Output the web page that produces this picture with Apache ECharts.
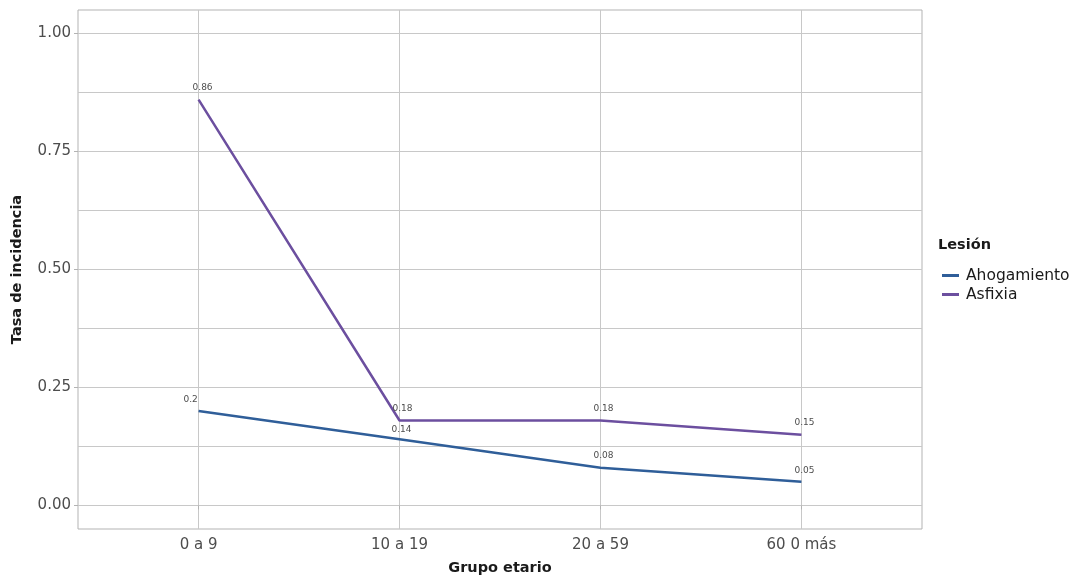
<!DOCTYPE html>
<html>
<head>
<meta charset="utf-8">
<script src="https://cdn.jsdelivr.net/npm/echarts@6/dist/echarts.min.js"></script>
<style>
html,body{margin:0;padding:0;background:#fff;}
#chart{width:1081px;height:577px;}
</style>
</head>
<body>
<div id="chart"></div>
<script>
const categories = ['0 a 9', '10 a 19', '20 a 59', '60 0 más'];
const ahogamiento = [0.2, 0.14, 0.08, 0.05];
const asfixia = [0.86, 0.18, 0.18, 0.15];
const yTickLabels = [0, 0.25, 0.5, 0.75, 1.0];
const yGridValues = [0, 0.125, 0.25, 0.375, 0.5, 0.625, 0.75, 0.875, 1.0];
const seriesNames = ['Ahogamiento', 'Asfixia'];

const FONT = 'DejaVu Sans';
const chart = echarts.init(document.getElementById('chart'), null, {renderer: 'canvas'});

function toPoints(arr, offsets) {
  return arr.map((v, i) => {
    const item = {value: [i, v]};
    if (offsets && offsets[i]) item.label = {offset: offsets[i]};
    return item;
  });
}

const labelStyle = {
  show: true,
  position: 'top',
  distance: 7,
  offset: [3, 0],
  fontFamily: FONT,
  fontSize: 9,
  color: '#4d4d4d',
  formatter: p => String(p.value[1])
};

const tickStyle = {show: true, length: 4, lineStyle: {color: '#b3b3b3', width: 1}};

chart.setOption({
  animation: false,
  backgroundColor: '#ffffff',
  grid: {left: 78, right: 159, top: 10, bottom: 48, show: true, borderColor: '#b3b3b3', borderWidth: 1,
         containLabel: false, outerBoundsMode: 'none'},
  title: {
    text: 'Lesión', left: 938, top: 238, padding: 0,
    textStyle: {fontFamily: FONT, fontSize: 14.5, fontWeight: 'bold', color: '#1a1a1a'}
  },
  legend: {
    orient: 'vertical', left: 942, top: 266, itemGap: 0, padding: 0,
    itemWidth: 17, itemHeight: 3, icon: 'rect',
    data: seriesNames,
    textStyle: {fontFamily: FONT, fontSize: 15.5, lineHeight: 19, color: '#1a1a1a', padding: [0, 0, 0, 2]}
  },
  xAxis: {
    type: 'value', min: -0.6, max: 3.6,
    name: 'Grupo etario', nameLocation: 'middle', nameGap: 32,
    nameTextStyle: {fontFamily: FONT, fontSize: 14.5, fontWeight: 'bold', color: '#1a1a1a'},
    axisLine: {show: false},
    axisTick: Object.assign({customValues: [0, 1, 2, 3]}, tickStyle),
    axisLabel: {customValues: [0, 1, 2, 3], formatter: v => categories[Math.round(v)] || '', fontFamily: FONT, fontSize: 15, color: '#4d4d4d', margin: 9},
    splitLine: {show: true, lineStyle: {color: '#c8c8c8', width: 1}}
  },
  yAxis: [
    {
      type: 'value', min: -0.05, max: 1.05,
      name: 'Tasa de incidencia', nameLocation: 'middle', nameGap: 53, nameRotate: 90,
      nameTextStyle: {fontFamily: FONT, fontSize: 14.5, fontWeight: 'bold', color: '#1a1a1a'},
      axisLine: {show: false},
      axisTick: {show: false, customValues: yGridValues},
      axisLabel: {customValues: yTickLabels, formatter: v => v.toFixed(2), fontFamily: FONT, fontSize: 15, color: '#4d4d4d', margin: 7},
      splitLine: {show: true, lineStyle: {color: '#c8c8c8', width: 1}}
    },
    {
      type: 'value', min: -0.05, max: 1.05, position: 'left', offset: 0,
      axisLine: {show: false},
      axisTick: Object.assign({customValues: yTickLabels}, tickStyle),
      axisLabel: {show: false, customValues: yTickLabels},
      splitLine: {show: false}
    }
  ],
  series: [
    {
      name: seriesNames[0], type: 'line', data: toPoints(ahogamiento, {0: [-8, 0], 1: [2, 2]}),
      showSymbol: true, symbol: 'circle', symbolSize: 0.1,
      lineStyle: {color: '#2f5e99', width: 2.5}, itemStyle: {color: '#2f5e99'},
      label: labelStyle, z: 3
    },
    {
      name: seriesNames[1], type: 'line', data: toPoints(asfixia, {0: [4, 0]}),
      showSymbol: true, symbol: 'circle', symbolSize: 0.1,
      lineStyle: {color: '#6c4f9f', width: 2.5}, itemStyle: {color: '#6c4f9f'},
      label: labelStyle, z: 4
    }
  ]
});
</script>
</body>
</html>
